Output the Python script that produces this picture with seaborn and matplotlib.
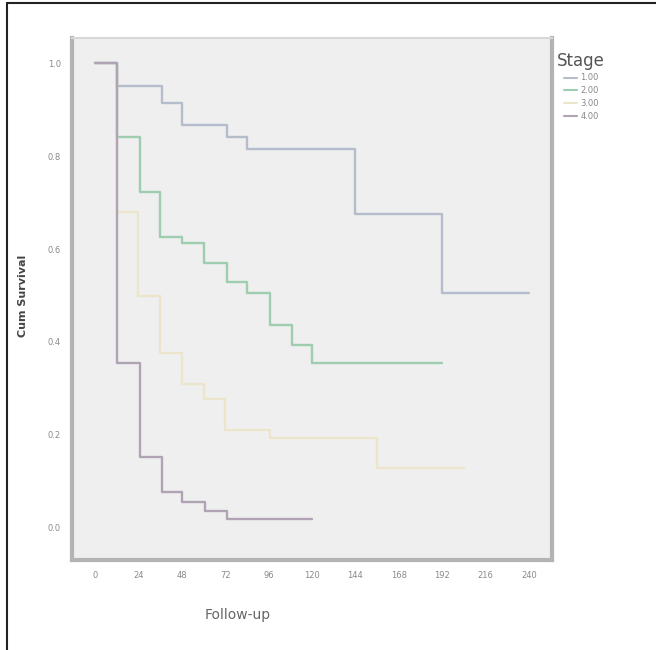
import numpy as np
import pandas as pd
import matplotlib
matplotlib.use("Agg")
import matplotlib.pyplot as plt
from matplotlib.lines import Line2D
import seaborn as sns

# Kaplan-Meier step estimates by stage (months, cumulative survival)
stage_labels = ["1.00", "2.00", "3.00", "4.00"]
time_s1 = [0, 12, 37, 48, 73, 84, 144, 192, 240]
surv_s1 = [1.0, 0.95, 0.915, 0.867, 0.841, 0.815, 0.675, 0.505, 0.505]
time_s2 = [0, 12, 25, 36, 48, 60, 73, 84, 97, 109, 120, 192]
surv_s2 = [1.0, 0.84, 0.723, 0.626, 0.613, 0.57, 0.529, 0.505, 0.437, 0.394, 0.355, 0.355]
time_s3 = [0, 12, 24, 36, 48, 60, 72, 97, 156, 204]
surv_s3 = [1.0, 0.68, 0.50, 0.376, 0.309, 0.278, 0.21, 0.194, 0.129, 0.129]
time_s4 = [0, 12, 25, 37, 48, 61, 73, 120]
surv_s4 = [1.0, 0.355, 0.153, 0.077, 0.056, 0.036, 0.02, 0.02]

x_ticks = [0, 24, 48, 72, 96, 120, 144, 168, 192, 216, 240]
y_ticks = [0.0, 0.2, 0.4, 0.6, 0.8, 1.0]

stage_colors = ["#b5bccb", "#9fcdb0", "#ebe5cb", "#afa3b4"]

frames = []
for lab, t, s in zip(stage_labels,
                     [time_s1, time_s2, time_s3, time_s4],
                     [surv_s1, surv_s2, surv_s3, surv_s4]):
    frames.append(pd.DataFrame({"Follow-up": t, "Cum Survival": s, "Stage": lab}))
df = pd.concat(frames, ignore_index=True)

sns.set_style("white")
plt.rcParams["font.family"] = ["DejaVu Sans"]

fig = plt.figure(figsize=(6.56, 6.50), dpi=100)
fig.patch.set_facecolor("white")
ax = fig.add_axes([0.1098, 0.1385, 0.7317, 0.803])
ax.set_facecolor("#efefef")

sns.lineplot(data=df, x="Follow-up", y="Cum Survival", hue="Stage",
             hue_order=stage_labels, palette=stage_colors,
             drawstyle="steps-post", linewidth=1.7, legend=False,
             estimator=None, sort=False, ax=ax)

ax.set_xlim(-12.7, 252.7)
ax.set_ylim(-0.069, 1.054)
ax.set_xticks(x_ticks)
ax.set_xticklabels([str(v) for v in x_ticks])
ax.set_yticks(y_ticks)
ax.set_yticklabels([f"{v:.1f}" for v in y_ticks])
ax.tick_params(axis="both", direction="out", length=5, width=1.2,
               color="#9a9a9a", labelsize=6, labelcolor="#8a8a8a", pad=3)

for side in ["left", "bottom", "right"]:
    ax.spines[side].set_color("#b3b3b3")
    ax.spines[side].set_linewidth(3)
ax.spines["top"].set_color("#d8d8d8")
ax.spines["top"].set_linewidth(1.5)

ax.set_xlabel("")
ax.set_ylabel("")
fig.text(0.035, 0.545, "Cum Survival", rotation=90, ha="center", va="center",
         fontsize=8, color="#444444", fontweight="bold")
fig.text(0.362, 0.054, "Follow-up", ha="center", va="center",
         fontsize=10, color="#666666")

handles = [Line2D([0], [0], color=c, lw=1.5) for c in stage_colors]
leg = fig.legend(handles, stage_labels, title="Stage",
                 loc="upper left", bbox_to_anchor=(0.838, 0.932),
                 frameon=False, fontsize=6, handlelength=1.6,
                 handletextpad=0.4, labelspacing=0.45)
leg.get_title().set_fontsize(12)
leg.get_title().set_color("#555555")
for txt in leg.get_texts():
    txt.set_color("#888888")

# outer frame edges
fig.add_artist(Line2D([0.0107, 0.0107], [0.0, 0.995], color="#222222", lw=1.5,
                      transform=fig.transFigure))
fig.add_artist(Line2D([0.0107, 1.0], [0.995, 0.995], color="#222222", lw=1.5,
                      transform=fig.transFigure))

fig.savefig("out.png", dpi=100)
